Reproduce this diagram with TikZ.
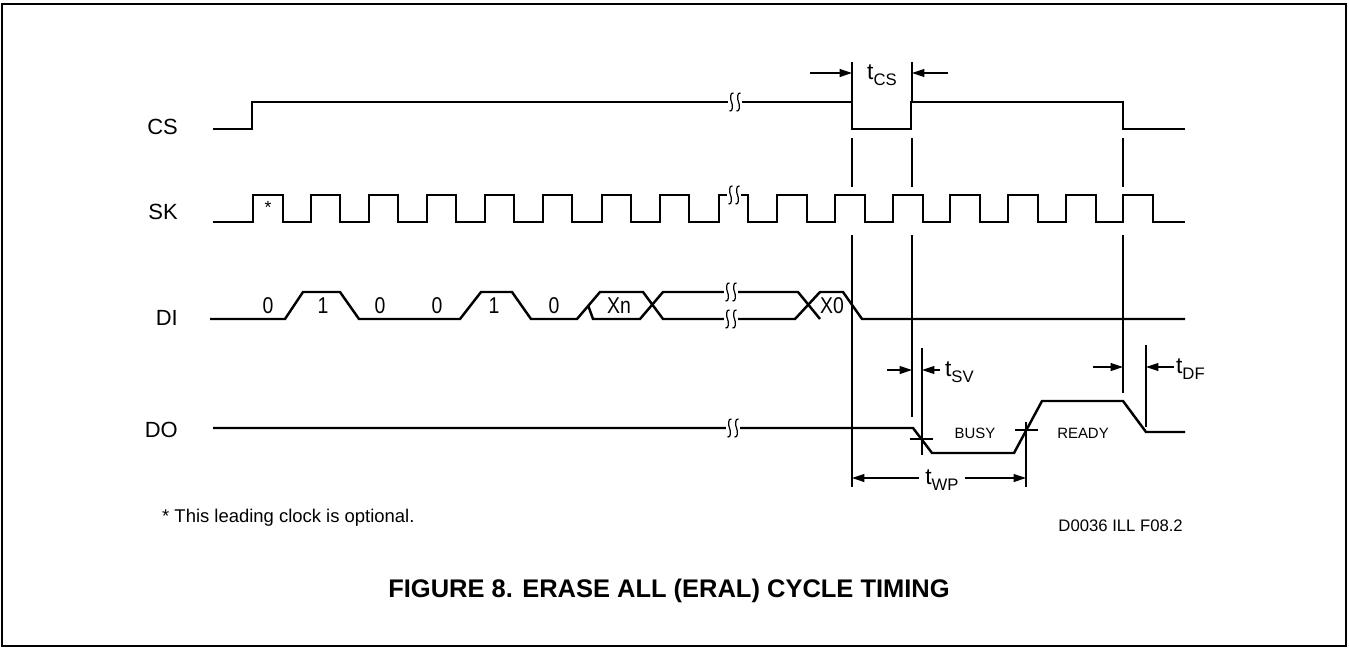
\documentclass[tikz,border=0pt]{standalone}
\usepackage{fontspec}
\setmainfont{Liberation Sans}
\usetikzlibrary{arrows.meta, positioning, calc}

\newcommand\tsub[1]{t\raisebox{-0.45ex}{\fontsize{9.5}{10}\selectfont #1}}

\tikzset{
  brk/.pic={
    \fill[white] (-7,-10) rectangle (7,10);
    \foreach \dx in {-3.5,3.5}
      \draw[line width=0.7pt] (\dx+2,-9) .. controls (\dx-1.5,-10) and (\dx-1.5,-3) .. (\dx,0)
            .. controls (\dx+1.5,3) and (\dx+1.5,10) .. (\dx-2,9);
  }
}

\begin{document}
\begin{tikzpicture}[x=0.02cm, y=-0.02cm, >={Triangle[length=7pt,width=4.5pt]},
    wave/.style={line width=1.4pt},
    guide/.style={line width=0.6pt},
    sig/.style={anchor=east, font=\fontsize{12.5}{14}\selectfont},
    bit/.style={font=\fontsize{13}{14}\selectfont\addfontfeature{FakeStretch=0.85}, inner sep=0pt},
    tlabel/.style={font=\fontsize{13}{14}\selectfont, inner sep=1pt},
    small/.style={font=\fontsize{8.5}{10}\selectfont}]
    \useasboundingbox (0,0) rectangle (1349,649);
    % 外框
    \draw[line width=1.1pt] (2,4) rectangle (1346,646);

    % 信号名称
    \node[sig] (cs) at (184,127) {CS};
    \node[sig] (sk) at (184,212) {SK};
    \node[sig] (di) at (184,318) {DI};
    \node[sig] (do) at (184,430) {DO};

    % CS 波形
    \draw[wave] (213,129) -- (252,129) -- (252,102) -- (852,102) -- (852,129) -- (911,129)
        -- (911,102) -- (1123,102) -- (1123,129) -- (1185,129);
    \pic at (735,102) {brk};

    % SK 时钟
    \draw[wave] (213,222) -- (253,222) -- (253,195) -- (283,195) -- (283,222)
        foreach \r in {311,369,427,485,543,602,660} { -- (\r,222) -- (\r,195) -- ({\r+29},195) -- ({\r+29},222) }
        -- (719,222) -- (719,195) -- (748,195) -- (748,222)
        foreach \r in {777,835,893,950,1008,1066,1123} { -- (\r,222) -- (\r,195) -- ({\r+30},195) -- ({\r+30},222) }
        -- (1185,222);
    \pic at (734,195) {brk};
    \node (star) at (268,207) {*};

    % DI 数据
    \draw[wave] (210,319) -- (285,319) -- (303,292) -- (340,292) -- (359,319) -- (460,319)
        -- (481,292) -- (512,292) -- (531,319) -- (577,319) -- (600,292) -- (643,292)
        -- (663,319) -- (795,319) -- (820,292) -- (843,292) -- (862,319) -- (1185,319);
    \draw[wave] (588,305) -- (593,319) -- (640,319) -- (663,292) -- (798,292) -- (820,319);
    \pic at (731,292) {brk};
    \pic at (731,319) {brk};
    \node[bit] (b1) at (268,306) {0};
    \node[bit] (b2) at (323,306) {1};
    \node[bit] (b3) at (380,306) {0};
    \node[bit] (b4) at (437,306) {0};
    \node[bit] (b5) at (494,306) {1};
    \node[bit] (b6) at (554,306) {0};
    \node[bit] (xn) at (619,306) {Xn};
    \node[bit] (x0) at (832,306) {X0};

    % DO 输出
    \draw[wave] (213,428) -- (913,428) -- (932,453) -- (1014,453) -- (1042,401) -- (1123,401)
        -- (1146,432) -- (1185,432);
    \pic at (733,428) {brk};
    \node[small] (busy) at (975,433) {BUSY};
    \node[small] (ready) at (1083,433) {READY};

    % 辅助竖线
    \draw[guide] (852,62) -- (852,102) (852,138) -- (852,187) (852,235) -- (852,487);
    \draw[guide] (912,62) -- (912,102) (912,138) -- (912,187) (912,235) -- (912,417);
    \draw[guide] (1123,138) -- (1123,187) (1123,235) -- (1123,393);
    \draw[guide] (922,348) -- (922,455) (910,439) -- (933,439);
    \draw[guide] (1026,422) -- (1026,487) (1015,430) -- (1038,430);
    \draw[guide] (1146,345) -- (1146,427);

    % 时间参数
    \coordinate (csA) at (852,73);
    \coordinate (csB) at (912,73);
    \draw[guide,->] (810,73) -- (csA);
    \draw[guide,->] (948,73) -- (csB);
    \node[tlabel] (tcs) at (882,75) {\tsub{CS}};

    \coordinate (svA) at (912,370);
    \coordinate (svB) at (922,370);
    \draw[guide,->] (887,370) -- (svA);
    \draw[guide,->] (940,370) -- (svB);
    \node[tlabel, anchor=west] (tsv) at (943,372) {\tsub{SV}};

    \coordinate (dfA) at (1123,367);
    \coordinate (dfB) at (1146,367);
    \draw[guide,->] (1093,367) -- (dfA);
    \draw[guide,->] (1174,367) -- (dfB);
    \node[tlabel, anchor=west] (tdf) at (1174,369) {\tsub{DF}};

    \coordinate (wpA) at (852,478);
    \coordinate (wpB) at (1026,478);
    \node[tlabel] (twp) at (942,480) {\tsub{WP}};
    \draw[guide,->] (twp.west) ++(-4,-2) -- (wpA);
    \draw[guide,->] (twp.east) ++(4,-2) -- (wpB);

    % 注释与标题
    \node[anchor=west, font=\fontsize{10.5}{12}\selectfont] (note) at (156,518) {* This leading clock is optional.};
    \node[anchor=east, font=\fontsize{9.5}{11}\selectfont] (code) at (1189,526) {D0036 ILL F08.2};
    \node[font=\fontsize{14.5}{16}\bfseries\selectfont] (title) at (669,591) {FIGURE 8. ERASE ALL (ERAL) CYCLE TIMING};
\end{tikzpicture}
\end{document}
